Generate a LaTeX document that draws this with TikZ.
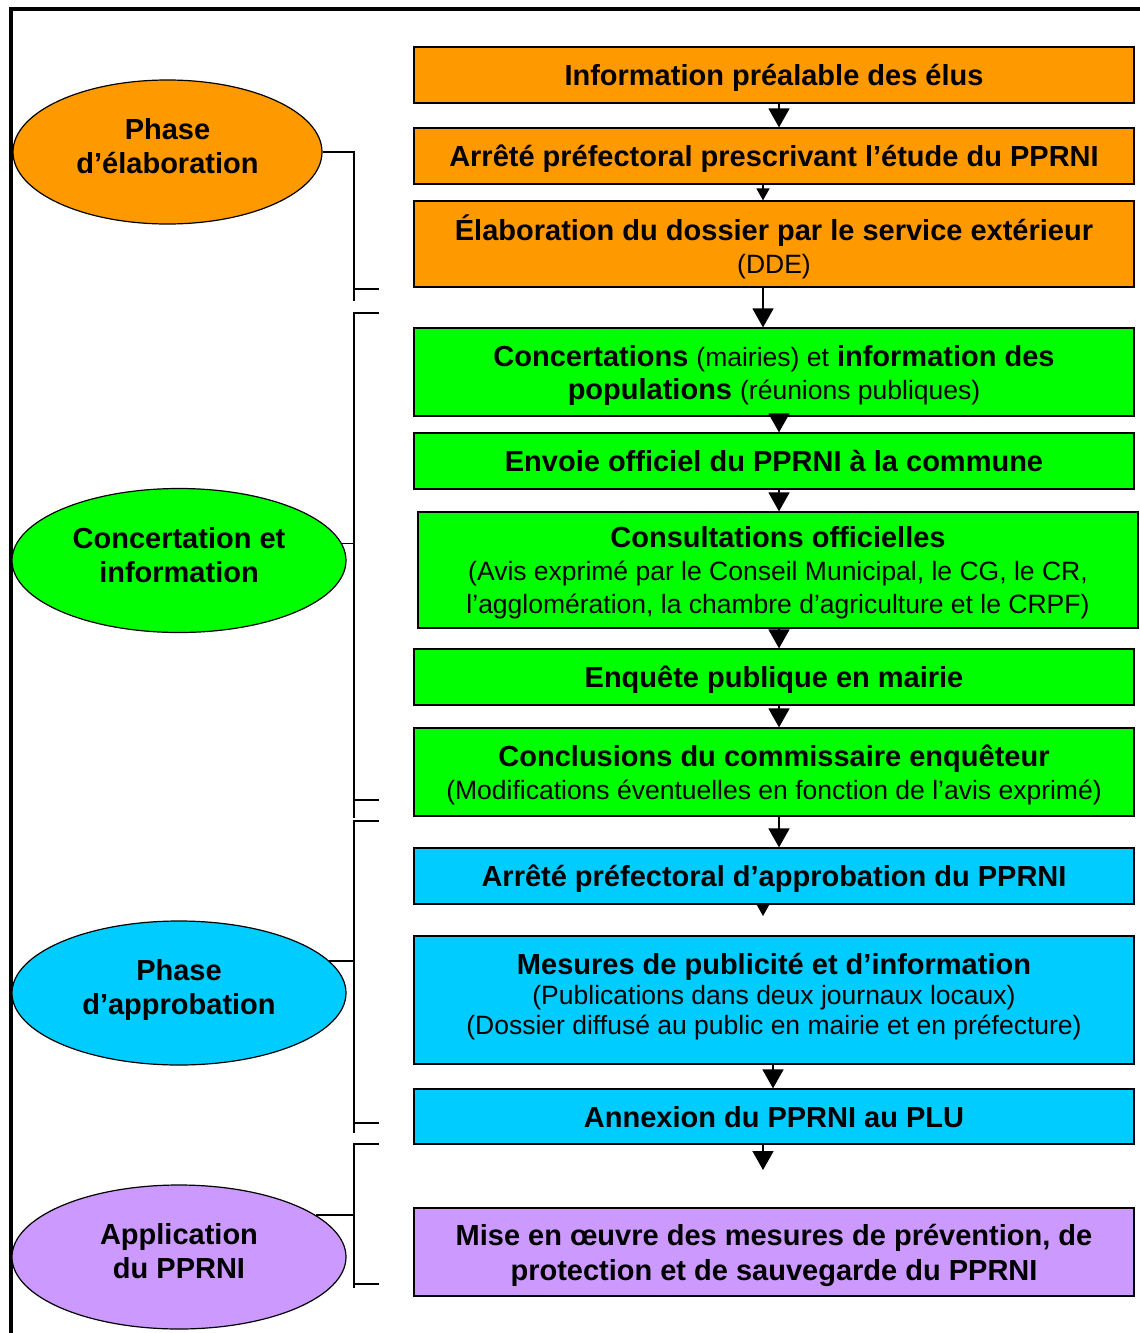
\documentclass[tikz,border=0pt]{standalone}
\usepackage{fontspec}
\setmainfont{Liberation Sans}
\usetikzlibrary{arrows.meta,shapes.geometric}
\definecolor{cOr}{HTML}{FF9900}
\definecolor{cGr}{HTML}{00FF00}
\definecolor{cBl}{HTML}{00CCFF}
\definecolor{cPu}{HTML}{CC99FF}
\newcommand{\rg}[1]{{\fontsize{26.5}{31}\selectfont\mdseries #1}}
\tikzset{
  stage/.style ={rectangle,draw,line width=1.2pt,minimum width=720pt,inner sep=0pt,align=center,
                 text depth=0pt,font=\fontsize{29}{33}\selectfont\bfseries},
  phase/.style ={ellipse,draw,line width=1.2pt,minimum width=334pt,minimum height=144pt,inner sep=0pt,
                 align=center,text depth=12pt,font=\fontsize{29}{34}\selectfont\bfseries},
  elab/.style  ={fill=cOr},
  conc/.style  ={fill=cGr},
  appr/.style  ={fill=cBl},
  appl/.style  ={fill=cPu},
  flow/.style  ={line width=1.6pt,-{Triangle[width=21pt,length=19pt]}},
  nub/.style   ={line width=1.6pt,-{Triangle[width=13pt,length=12pt]}},
  brace/.style ={line width=1.6pt},
  frame/.style ={line width=4pt},
}
\begin{document}
\begin{tikzpicture}[x=1pt,y=-1pt]
  \useasboundingbox (0,0) rectangle (1140,1333);
  \draw[frame] (1140,9) -| (11,1333);
  % phases
  \node[phase,elab,minimum width=309pt] (p1) at (167.5,152){Phase\\d’élaboration};
  \node[phase,conc] (p2) at (179,560.5){Concertation et\\information};
  \node[phase,appr] (p3) at (179,993){Phase\\d’approbation};
  \node[phase,appl] (p4) at (179,1257){Application\\du PPRNI};
  % steps
  \node[stage,elab,minimum height=56pt] (s1) at (774,75){Information préalable des élus};
  \node[stage,elab,minimum height=56pt] (s2) at (774,156){Arrêté préfectoral prescrivant l’étude du PPRNI};
  \node[stage,elab,minimum height=86pt] (s3) at (774,244){Élaboration du dossier par le service extérieur\\\rg{(DDE)}};
  \node[stage,conc,minimum height=88pt] (s4) at (774,372){Concertations \rg{(mairies) et} information des\\populations \rg{(réunions publiques)}};
  \node[stage,conc,minimum height=56pt] (s5) at (774,461){Envoie officiel du PPRNI à la commune};
  \node[stage,conc,minimum height=116pt] (s6) at (778,570){Consultations officielles\\\rg{(Avis exprimé par le Conseil Municipal, le CG, le CR,}\\\rg{l’agglomération, la chambre d’agriculture et le CRPF)}};
  \node[stage,conc,minimum height=56pt] (s7) at (774,677){Enquête publique en mairie};
  \node[stage,conc,minimum height=88pt] (s8) at (774,772){Conclusions du commissaire enquêteur\\\rg{(Modifications éventuelles en fonction de l’avis exprimé)}};
  \node[stage,appr,minimum height=56pt] (s9) at (774,876){Arrêté préfectoral d’approbation du PPRNI};
  \node[stage,appr,minimum height=128pt,text depth=12pt] (s10) at (774,1000){Mesures de publicité et d’information\\[-3pt]\rg{(Publications dans deux journaux locaux)}\\[-3pt]\rg{(Dossier diffusé au public en mairie et en préfecture)}};
  \node[stage,appr,minimum height=55pt] (s11) at (774,1116.5){Annexion du PPRNI au PLU};
  \node[stage,appl,minimum height=88pt] (s12) at (774,1252){Mise en œuvre des mesures de prévention, de\\[2pt]protection et de sauvegarde du PPRNI};
  % arrows
  \coordinate (ax) at (779,0); \coordinate (bx) at (763,0); \coordinate (cx) at (773,0);
  \coordinate (h9) at (763,916); \coordinate (h11) at (763,1170);
  \foreach \a/\b in {s1/s2,s4/s5,s5/s6,s6/s7,s7/s8,s8/s9}{\draw[flow] (\a.south -| ax) -- (\b.north -| ax);}
  \draw[flow] (s3.south -| bx) -- (s4.north -| bx);
  \draw[nub] (s2.south -| bx) -- (s3.north -| bx);
  \draw[nub] (s9.south -| bx) -- (h9);
  \draw[flow] (s10.south -| cx) -- (s11.north -| cx);
  \draw[flow] (s11.south -| bx) -- (h11);
  % brackets
  \coordinate (k1) at (354,152); \coordinate (k2) at (354,313);
  \coordinate (k3) at (354,821); \coordinate (k4) at (354,1144);
  \draw[brace] (p1.east) -- (k1) -- (354,301);
  \draw[brace] (354,289) -- +(25,0);
  \draw[brace] (k2) ++(25,0) -- (k2) -- (354,818);
  \draw[brace] (354,800) -- +(25,0);
  \draw[brace] (p2.6) -- (p2.6 -| k2);
  \draw[brace] (k3) ++(25,0) -- (k3) -- (354,1133);
  \draw[brace] (354,1123) -- +(25,0);
  \draw[brace] (p3.12.5) -- (p3.12.5 -| k3);
  \draw[brace] (k4) ++(25,0) -- (k4) -- (354,1288);
  \draw[brace] (354,1284) -- +(25,0);
  \draw[brace] (p4.17.8) -- (p4.17.8 -| k4);
\end{tikzpicture}
\end{document}
